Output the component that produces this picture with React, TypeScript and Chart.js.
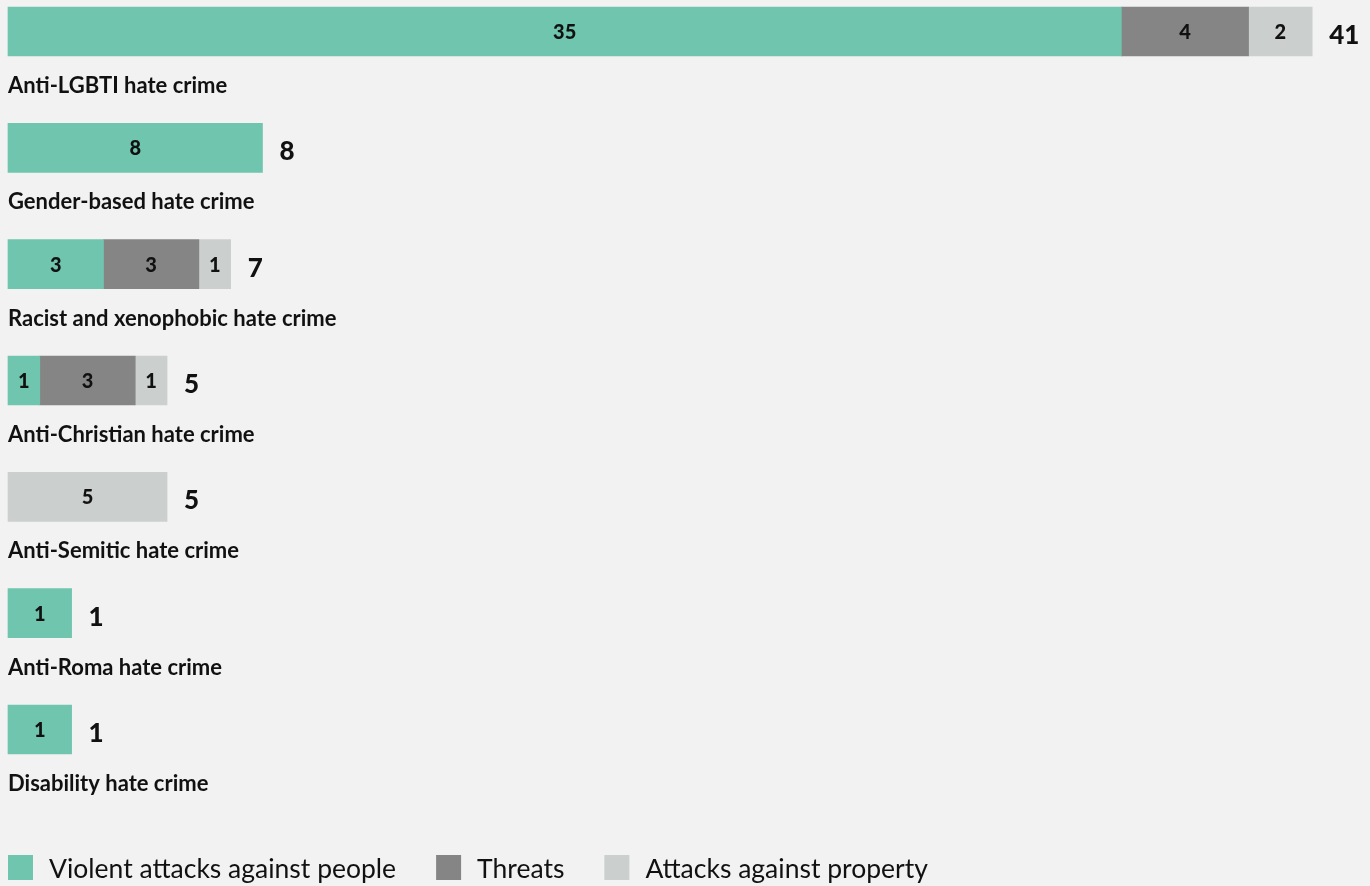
import React, { useEffect, useRef } from "react";
import { Chart, registerables } from "chart.js";

Chart.register(...registerables);

const categories = [
  "Anti-LGBTI hate crime",
  "Gender-based hate crime",
  "Racist and xenophobic hate crime",
  "Anti-Christian hate crime",
  "Anti-Semitic hate crime",
  "Anti-Roma hate crime",
  "Disability hate crime",
];
const violent = [35, 8, 3, 1, 0, 1, 1];
const threats = [4, 0, 3, 3, 0, 0, 0];
const property = [2, 0, 1, 1, 5, 0, 0];
const seriesNames = ["Violent attacks against people", "Threats", "Attacks against property"];
const seriesColors = ["#6fc5ad", "#858585", "#cbcfce"];

const FONT = "Lato, 'Noto Sans', sans-serif";
const MIN_BAR_UNITS = 2; // short bars are drawn at least this long (style)
const BG = "#f2f2f2";

const series = [violent, threats, property];
const totals = categories.map((_, i) => violent[i] + threats[i] + property[i]);
const displayData = (arr: number[]) =>
  arr.map((v, i) => {
    if (!v) return null;
    return totals[i] < MIN_BAR_UNITS ? (v * MIN_BAR_UNITS) / totals[i] : v;
  });

const overlayPlugin = {
  id: "overlay",
  beforeDraw(chart: any) {
    const { ctx, width, height } = chart;
    ctx.save();
    ctx.fillStyle = BG;
    ctx.fillRect(0, 0, width, height);
    ctx.restore();
  },
  afterDraw(chart: any) {
    const { ctx } = chart;
    const xs = chart.scales.x;
    const ys = chart.scales.y;
    ctx.save();
    ctx.textBaseline = "alphabetic";
    // segment labels
    series.forEach((arr, d) => {
      const meta = chart.getDatasetMeta(d);
      meta.data.forEach((bar: any, i: number) => {
        const v = arr[i];
        if (!v) return;
        const cx = (bar.x + bar.base) / 2;
        ctx.font = `900 20px ${FONT}`;
        ctx.fillStyle = "#111";
        ctx.textAlign = "center";
        ctx.fillText(String(v), cx, bar.y + 7.5);
      });
    });
    // totals and category labels
    categories.forEach((cat, i) => {
      const cy = ys.getPixelForValue(i);
      let end = xs.getPixelForValue(0);
      for (let d = 0; d < series.length; d++) {
        const bar: any = chart.getDatasetMeta(d).data[i];
        if (bar && series[d][i]) end = Math.max(end, bar.x);
      }
      ctx.font = `900 26px ${FONT}`;
      ctx.fillStyle = "#111";
      ctx.textAlign = "left";
      ctx.fillText(String(totals[i]), end + 17, cy + 12.5);
      ctx.font = `bold 22px ${FONT}`;
      ctx.fillText(cat, xs.left, cy + 61.5);
    });
    // legend
    let lx = xs.left;
    const ly = 855;
    seriesNames.forEach((name, d) => {
      ctx.fillStyle = seriesColors[d];
      ctx.fillRect(lx, ly, 25, 25);
      ctx.font = `26.5px ${FONT}`;
      ctx.fillStyle = "#111";
      ctx.textAlign = "left";
      ctx.fillText(name, lx + 41, ly + 23);
      lx += 41 + ctx.measureText(name).width + 40;
    });
    ctx.restore();
  },
};

export default function App() {
  const ref = useRef<HTMLCanvasElement>(null);
  useEffect(() => {
    document.body.style.margin = "0";
    document.body.style.background = BG;
    const chart = new Chart(ref.current!, {
      type: "bar",
      data: {
        labels: categories,
        datasets: series.map((arr, d) => ({
          label: seriesNames[d],
          data: displayData(arr),
          backgroundColor: seriesColors[d],
          barThickness: 49,
          borderWidth: 0,
          clip: false as any,
        })),
      },
      options: {
        indexAxis: "y",
        animation: false,
        responsive: false,
        layout: { padding: { left: 8, right: 26, top: 31.5, bottom: 156.5 } },
        scales: {
          x: { stacked: true, min: 0, max: 42, display: false },
          y: { stacked: true, display: false, offset: false },
        },
        plugins: { legend: { display: false }, tooltip: { enabled: false } },
      },
      plugins: [overlayPlugin],
    });
    return () => chart.destroy();
  }, []);
  return <canvas ref={ref} width={1370} height={886} style={{ display: "block" }} />;
}
